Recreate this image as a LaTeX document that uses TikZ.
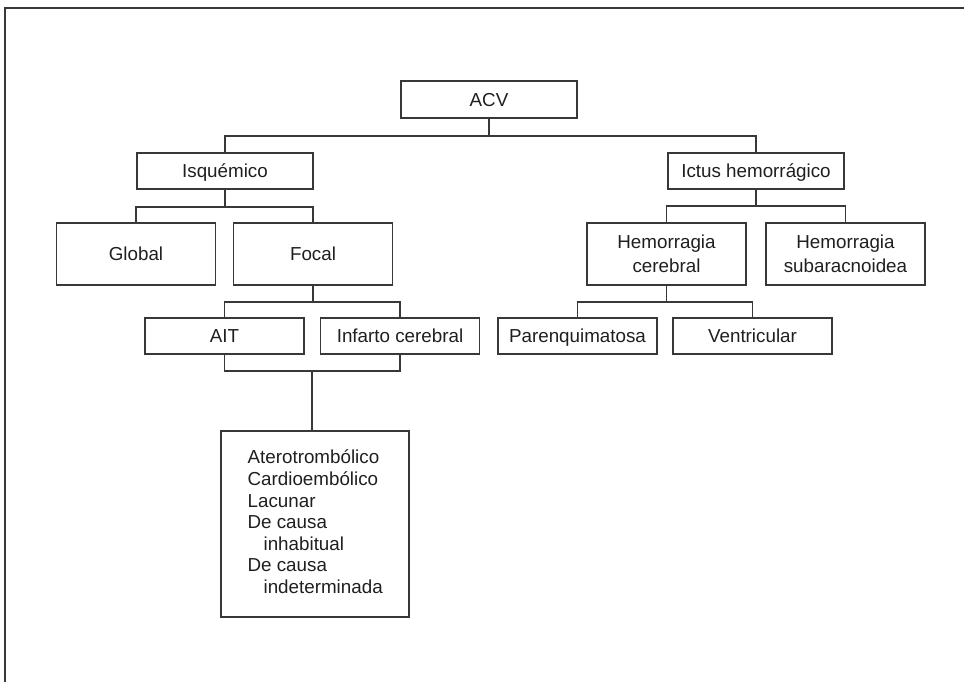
\documentclass[tikz,border=0pt]{standalone}
\usepackage{fontspec}
\setmainfont{Liberation Sans}
\begin{document}
\begin{tikzpicture}[x=1pt,y=-1pt,
  line width=1.2pt, draw=black!78,
  box/.style={draw=black!78, line width=1.2pt, inner sep=0pt, align=center,
    font=\fontsize{18.8}{23.5}\selectfont, text=black!88},
  onebox/.style={box, text height=13.5pt, text depth=0pt},
  smallbox/.style={onebox, minimum width=159pt, minimum height=36pt},
  tallbox/.style={box, minimum width=159pt, minimum height=62pt},
  wire/.style={draw=black!78, line width=1.2pt}]
\useasboundingbox (0,0) rectangle (964,682);
% frame (top and left only)
\draw[wire] (5,682) -- (5,8) -- (964,8);

\node[onebox, minimum width=176pt, minimum height=37pt] (acv) at (489,99.5) {ACV};
\node[onebox, minimum width=176pt, minimum height=36pt] (isq) at (225,171) {Isquémico};
\node[onebox, minimum width=176pt, minimum height=36pt] (ict) at (756,171) {Ictus hemorrágico};
\node[tallbox] (glo) at (136,254) {Global};
\node[tallbox] (foc) at (313,254) {Focal};
\node[tallbox] (hce) at (666.5,254) {Hemorragia\\cerebral};
\node[tallbox] (hsu) at (845.5,254) {Hemorragia\\subaracnoidea};
\node[smallbox] (ait) at (224.5,336) {AIT};
\node[smallbox] (inf) at (400,336) {Infarto cerebral};
\node[smallbox] (par) at (577.5,336) {Parenquimatosa};
\node[smallbox] (ven) at (752.5,336) {Ventricular};
\node[box, minimum width=188pt, minimum height=186pt] (sub) at (315,524) {};
\node[anchor=north west, inner sep=0pt, align=left, text=black!88,
  font=\fontsize{18.8}{21.6}\selectfont] (subtxt) at (247,449.5)
  {Aterotrombólico\\Cardioembólico\\Lacunar\\De causa\\\hspace*{16pt}inhabitual\\De causa\\\hspace*{16pt}indeterminada};

% connectors
\coordinate (b0) at (489,136);
\draw[wire] (acv.south) -- (b0);
\draw[wire] (isq.north) |- (b0) -| (ict.north);

\coordinate (b1) at (225,207);
\draw[wire] (isq.south) -- (b1);
\draw[wire] (glo.north) |- (b1) -| (foc.north);

\coordinate (b2) at (756,206);
\draw[wire] (ict.south) -- (b2);
\draw[wire] (hce.north) |- (b2) -| (hsu.north);

\coordinate (b3) at (313,302);
\draw[wire] (foc.south) -- (b3);
\draw[wire] (ait.north) |- (b3) -| (inf.north);

\coordinate (b4) at (666.5,302);
\draw[wire] (hce.south) -- (b4);
\draw[wire] (par.north) |- (b4) -| (ven.north);

\coordinate (b5) at (312,371);
\draw[wire] (ait.south) |- (b5) -| (inf.south);
\draw[wire] (b5) -- (b5 |- sub.north);
\end{tikzpicture}
\end{document}
